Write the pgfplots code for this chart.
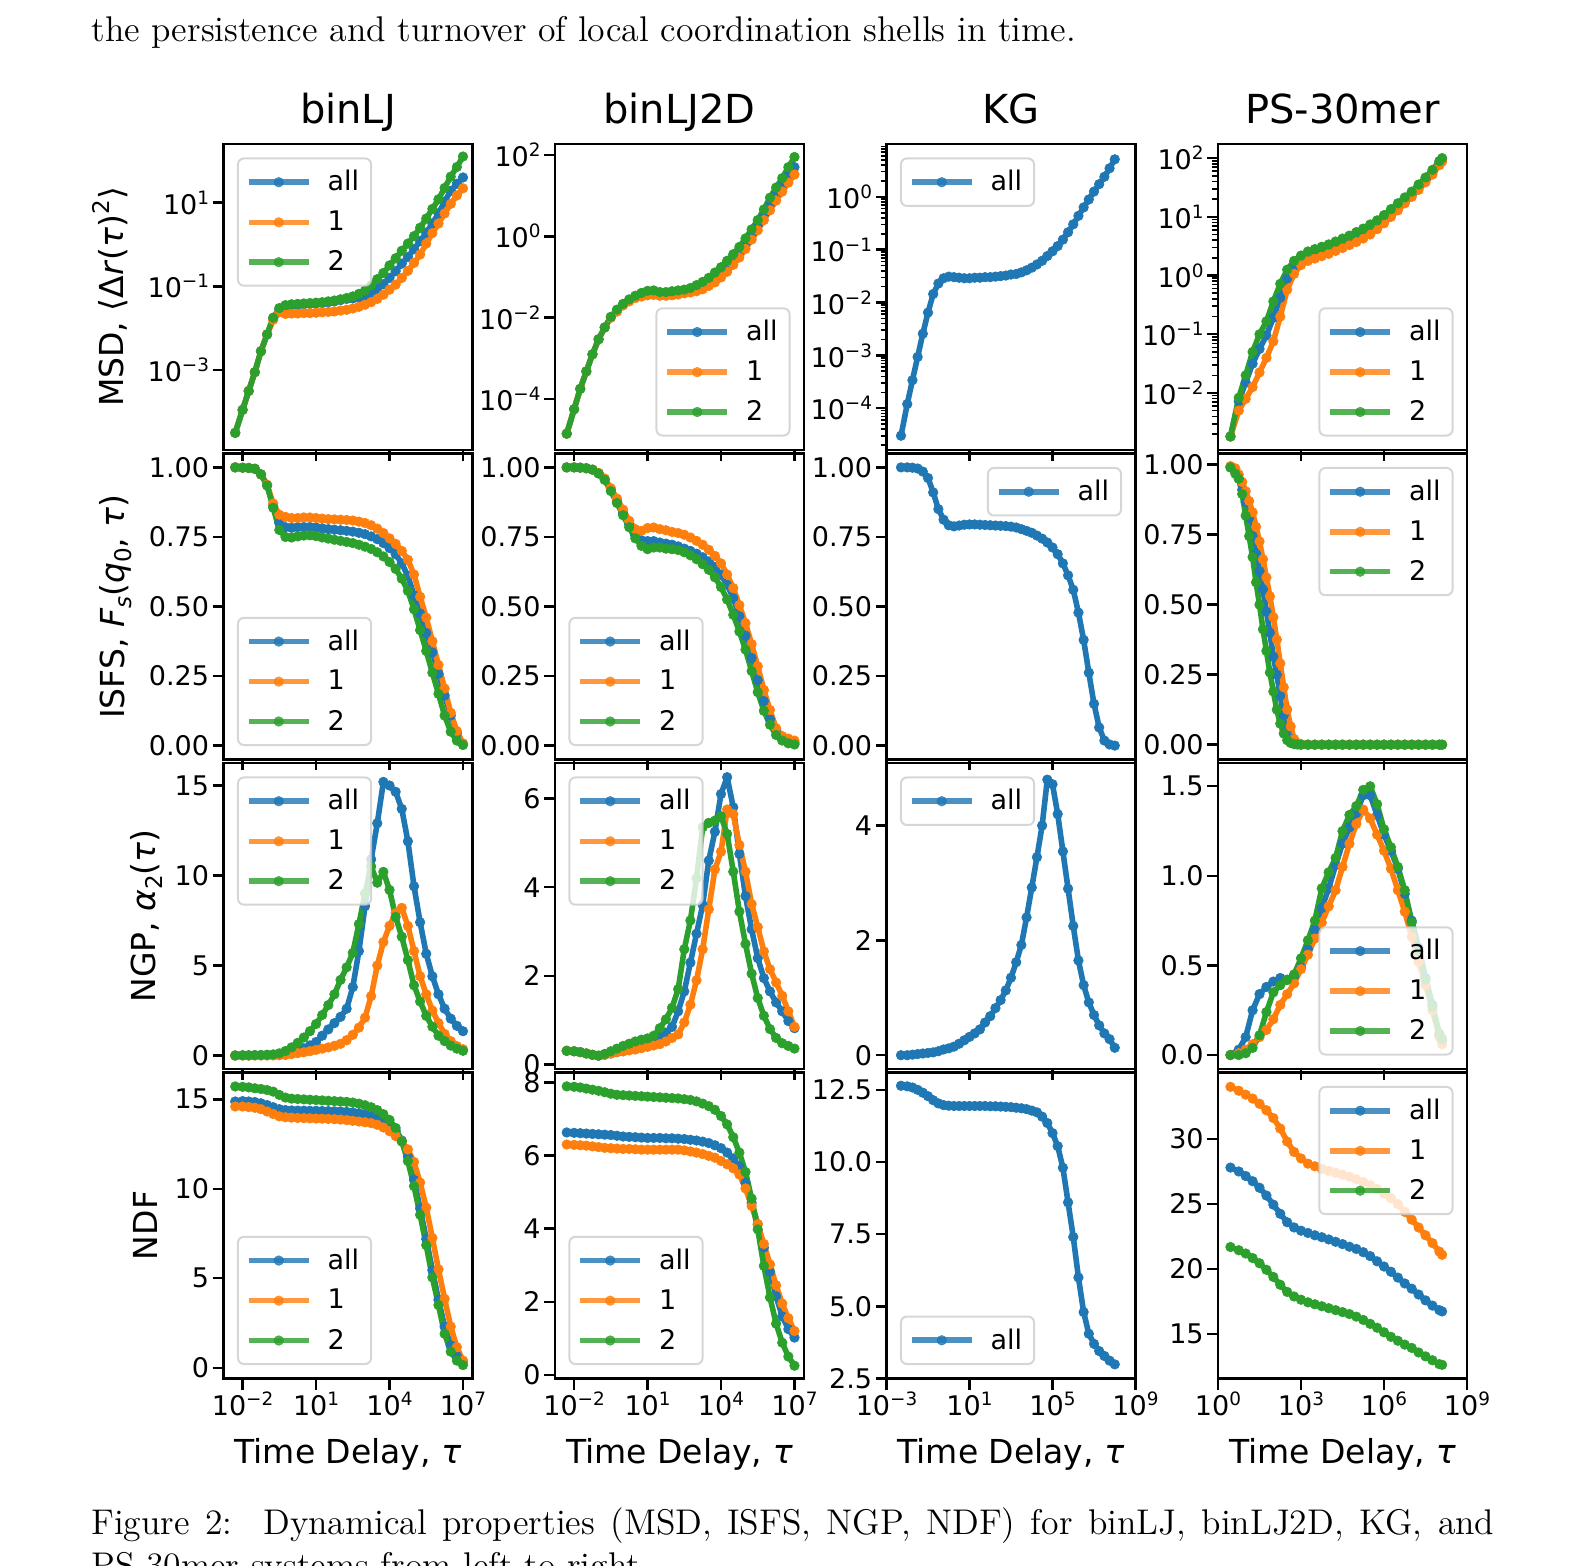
\documentclass[border=0pt]{standalone}
\usepackage{fontspec}
\usepackage{pgfplots}
\usepackage{pgfplotstable}
\pgfplotsset{compat=1.18}
\newfontfamily\dv{DejaVu Sans}
\newfontfamily\lmt{lmroman12-regular}[Extension=.otf]
\definecolor{tb}{HTML}{1F77B4}
\definecolor{to}{HTML}{FF7F0E}
\definecolor{tg}{HTML}{2CA02C}
\newcommand\tl{\dv\fontsize{13.5pt}{15pt}\selectfont}
\newcommand\lb{\dv\fontsize{16.5pt}{19pt}\selectfont}
\newcommand\pw[1]{10\raisebox{5pt}{\fontsize{9.2pt}{9.2pt}\selectfont #1}}
\newcommand\sps[1]{\raisebox{0.42em}{\fontsize{11.5pt}{11.5pt}\selectfont #1}}
\newcommand\sbs[1]{\raisebox{-0.22em}{\fontsize{11.5pt}{11.5pt}\selectfont #1}}

% binLJ: x, MSD(all,1,2), ISFS(all,1,2), NGP(all,1,2), NDF(all,1,2)
\pgfplotstableread{
x m0 m1 m2 f0 f1 f2 n0 n1 n2 d0 d1 d2
5e-3 3.16e-5 3.16e-5 3.16e-5 1.000 1.000 1.000 0.00 0.00 0.00 14.88 14.60 15.72
1e-2 1.12e-4 1.12e-4 1.12e-4 0.999 0.999 0.999 0.01 0.00 0.01 14.90 14.60 15.70
1.778e-2 3.16e-4 3.16e-4 3.16e-4 0.998 0.998 0.998 0.01 0.00 0.01 14.88 14.57 15.67
3.162e-2 8.91e-4 8.91e-4 8.91e-4 0.995 0.995 0.995 0.02 0.00 0.02 14.85 14.53 15.62
5.623e-2 2.82e-3 2.82e-3 2.82e-3 0.975 0.975 0.975 0.02 0.00 0.03 14.78 14.45 15.58
1e-1 7.08e-3 7.08e-3 7.08e-3 0.936 0.938 0.935 0.03 0.00 0.04 14.68 14.32 15.52
1.778e-1 1.74e-2 1.58e-2 1.78e-2 0.862 0.870 0.855 0.04 0.00 0.06 14.56 14.18 15.43
3.162e-1 2.88e-2 2.40e-2 3.02e-2 0.800 0.830 0.775 0.06 0.01 0.12 14.45 14.05 15.25
5.623e-1 3.39e-2 2.19e-2 3.55e-2 0.785 0.822 0.750 0.10 0.03 0.25 14.40 14.00 15.10
1 3.55e-2 2.24e-2 3.72e-2 0.783 0.818 0.748 0.18 0.08 0.45 14.38 13.98 15.04
1.778 3.63e-2 2.24e-2 3.80e-2 0.785 0.818 0.752 0.28 0.13 0.70 14.37 13.96 15.02
3.162 3.72e-2 2.29e-2 3.89e-2 0.786 0.820 0.755 0.40 0.18 1.00 14.37 13.95 15.00
5.623 3.80e-2 2.29e-2 3.98e-2 0.786 0.820 0.756 0.56 0.24 1.35 14.36 13.94 14.98
10 3.89e-2 2.34e-2 4.07e-2 0.784 0.818 0.753 0.75 0.31 1.75 14.36 13.93 14.96
17.78 3.98e-2 2.40e-2 4.17e-2 0.781 0.816 0.748 1.10 0.38 2.25 14.35 13.92 14.94
31.62 4.17e-2 2.45e-2 4.37e-2 0.778 0.814 0.744 1.45 0.45 2.80 14.34 13.91 14.92
56.23 4.37e-2 2.51e-2 4.57e-2 0.776 0.813 0.740 1.80 0.54 3.40 14.33 13.89 14.90
100 4.68e-2 2.63e-2 4.90e-2 0.774 0.812 0.736 2.15 0.65 4.20 14.32 13.87 14.88
177.8 5.01e-2 2.75e-2 5.25e-2 0.772 0.811 0.732 2.60 0.85 4.90 14.30 13.84 14.86
316.2 5.13e-2 2.95e-2 5.75e-2 0.769 0.809 0.728 3.80 1.15 5.70 14.27 13.80 14.82
562.3 5.37e-2 3.24e-2 6.61e-2 0.765 0.805 0.722 5.80 1.55 7.30 14.22 13.76 14.76
1000 5.89e-2 3.63e-2 7.94e-2 0.760 0.800 0.715 8.30 2.10 9.00 14.15 13.72 14.67
1778 6.92e-2 4.17e-2 1.05e-1 0.752 0.792 0.707 10.90 3.30 10.50 14.07 13.67 14.56
3162 8.71e-2 5.01e-2 1.48e-1 0.742 0.780 0.695 12.90 5.00 9.60 13.95 13.58 14.40
5623 1.12e-1 6.31e-2 2.09e-1 0.728 0.764 0.680 15.20 6.30 10.20 13.78 13.43 14.17
1e4 1.58e-1 8.32e-2 3.16e-1 0.710 0.745 0.660 15.00 7.20 9.20 13.56 13.22 13.85
1.778e4 2.29e-1 1.10e-1 4.68e-1 0.688 0.725 0.635 14.65 7.90 7.70 13.25 12.95 13.40
3.162e4 3.47e-1 1.58e-1 7.08e-1 0.655 0.700 0.600 13.70 8.20 6.60 12.70 12.65 12.65
5.623e4 5.01e-1 2.34e-1 1.05 0.610 0.668 0.556 11.90 7.20 5.30 11.80 12.20 11.55
1e5 7.76e-1 3.63e-1 1.585 0.540 0.615 0.490 9.40 5.80 3.90 10.50 11.50 10.15
1.778e5 1.20 5.75e-1 2.51 0.475 0.535 0.415 7.40 4.40 3.00 8.90 10.35 8.55
3.162e5 1.91 1.05 4.17 0.405 0.460 0.340 5.65 3.40 2.20 7.20 8.95 6.85
5.623e5 3.16 1.86 7.08 0.335 0.375 0.262 4.40 2.50 1.60 5.45 7.25 5.05
1e6 5.50 3.16 12.0 0.258 0.290 0.186 3.40 1.80 1.10 3.80 5.50 3.50
1.778e6 10.5 5.50 22.4 0.180 0.205 0.108 2.60 1.20 0.80 2.30 3.85 1.90
3.162e6 19.1 9.33 41.7 0.108 0.118 0.050 2.05 0.80 0.55 1.25 2.30 0.90
5.623e6 28.2 14.8 70.8 0.045 0.052 0.018 1.65 0.52 0.38 0.65 1.15 0.40
1e7 39.8 21.9 126 0.005 0.008 0.002 1.35 0.35 0.26 0.35 0.40 0.15
}\tA

% binLJ2D
\pgfplotstableread{
x m0 m1 m2 f0 f1 f2 n0 n1 n2 d0 d1 d2
5e-3 1.41e-5 1.41e-5 1.41e-5 1.000 1.000 1.000 0.31 0.31 0.31 6.63 6.30 7.89
1e-2 5.62e-5 5.62e-5 5.62e-5 1.000 1.000 1.000 0.30 0.30 0.30 6.62 6.29 7.88
1.778e-2 1.78e-4 1.78e-4 1.78e-4 0.999 0.999 0.999 0.28 0.28 0.28 6.61 6.28 7.86
3.162e-2 4.79e-4 4.79e-4 4.79e-4 0.997 0.997 0.997 0.25 0.25 0.25 6.60 6.27 7.83
5.623e-2 1.26e-3 1.26e-3 1.26e-3 0.992 0.992 0.992 0.22 0.22 0.22 6.59 6.25 7.80
1e-1 2.95e-3 2.95e-3 2.95e-3 0.979 0.980 0.978 0.20 0.20 0.20 6.58 6.23 7.77
1.778e-1 5.75e-3 5.75e-3 5.75e-3 0.957 0.960 0.955 0.22 0.22 0.24 6.57 6.21 7.73
3.162e-1 1.02e-2 1.00e-2 1.05e-2 0.919 0.925 0.915 0.25 0.25 0.30 6.56 6.20 7.69
5.623e-1 1.48e-2 1.41e-2 1.58e-2 0.878 0.888 0.872 0.28 0.28 0.36 6.54 6.19 7.66
1 2.09e-2 2.00e-2 2.19e-2 0.836 0.848 0.828 0.30 0.30 0.42 6.52 6.18 7.65
1.778 2.69e-2 2.51e-2 2.82e-2 0.795 0.808 0.785 0.33 0.32 0.47 6.51 6.18 7.64
3.162 3.24e-2 3.02e-2 3.47e-2 0.755 0.778 0.745 0.37 0.34 0.52 6.50 6.17 7.63
5.623 3.72e-2 3.31e-2 4.07e-2 0.738 0.772 0.718 0.42 0.37 0.56 6.49 6.16 7.62
10 4.07e-2 3.55e-2 4.57e-2 0.735 0.782 0.706 0.48 0.40 0.59 6.48 6.16 7.61
17.78 4.17e-2 3.63e-2 4.68e-2 0.735 0.784 0.712 0.55 0.43 0.65 6.48 6.16 7.60
31.62 3.89e-2 3.47e-2 4.27e-2 0.730 0.778 0.712 0.62 0.46 0.82 6.48 6.16 7.59
56.23 3.89e-2 3.47e-2 4.27e-2 0.726 0.774 0.708 0.72 0.52 1.02 6.47 6.16 7.58
100 3.98e-2 3.55e-2 4.47e-2 0.722 0.768 0.706 0.85 0.60 1.28 6.47 6.16 7.57
177.8 4.17e-2 3.72e-2 4.68e-2 0.716 0.764 0.703 1.20 0.68 1.70 6.46 6.16 7.56
316.2 4.47e-2 3.98e-2 4.90e-2 0.708 0.758 0.695 1.65 0.95 2.60 6.45 6.14 7.54
562.3 4.79e-2 4.17e-2 5.37e-2 0.700 0.748 0.684 2.30 1.35 3.25 6.43 6.11 7.52
1000 5.37e-2 4.47e-2 6.31e-2 0.690 0.736 0.670 2.95 1.90 4.20 6.41 6.08 7.48
1778 6.17e-2 5.01e-2 7.59e-2 0.677 0.722 0.652 3.60 2.60 5.35 6.38 6.04 7.42
3162 7.59e-2 6.03e-2 9.55e-2 0.662 0.704 0.632 4.60 3.50 5.45 6.34 5.99 7.35
5623 9.77e-2 7.41e-2 1.29e-1 0.642 0.682 0.605 5.25 4.40 5.50 6.28 5.94 7.25
1e4 1.32e-1 9.77e-2 1.74e-1 0.614 0.655 0.570 6.10 4.80 5.60 6.20 5.85 7.08
1.778e4 1.86e-1 1.35e-1 2.51e-1 0.578 0.615 0.525 6.48 5.75 5.20 6.08 5.76 6.85
3.162e4 2.69e-1 2.00e-1 3.63e-1 0.530 0.566 0.470 5.80 5.65 4.35 5.92 5.65 6.50
5.623e4 4.07e-1 3.02e-1 5.50e-1 0.465 0.505 0.410 4.75 4.95 3.45 5.70 5.48 6.08
1e5 6.61e-1 4.90e-1 8.91e-1 0.395 0.440 0.345 3.80 4.35 2.72 5.25 5.10 5.55
1.778e5 1.10 8.32e-1 1.48 0.315 0.365 0.268 3.05 3.62 2.05 4.70 4.62 4.82
3.162e5 1.86 1.41 2.51 0.235 0.285 0.192 2.40 3.10 1.50 4.12 4.12 3.98
5.623e5 3.31 2.51 4.57 0.160 0.200 0.125 1.95 2.55 1.10 3.48 3.58 2.98
1e6 6.17 4.37 8.91 0.095 0.128 0.075 1.65 2.15 0.80 2.82 3.02 2.12
1.778e6 11.0 7.59 15.8 0.055 0.062 0.038 1.40 1.85 0.60 2.15 2.45 1.40
3.162e6 18.6 12.6 26.9 0.030 0.034 0.018 1.20 1.55 0.48 1.60 1.95 0.88
5.623e6 30.9 20.9 50.1 0.018 0.025 0.008 0.98 1.20 0.42 1.25 1.55 0.50
1e7 50.1 33.1 89.1 0.010 0.018 0.004 0.82 0.85 0.36 1.02 1.20 0.25
}\tB

% KG: x, MSD, ISFS, NGP, NDF (all)
\pgfplotstableread{
x m f n d
5e-3 3.02e-5 1.000 0.00 12.64
1e-2 1.20e-4 1.000 0.00 12.62
1.778e-2 3.39e-4 0.999 0.01 12.58
3.162e-2 9.33e-4 0.996 0.02 12.50
5.623e-2 2.57e-3 0.985 0.03 12.40
1e-1 6.46e-3 0.962 0.04 12.28
1.778e-1 1.45e-2 0.910 0.05 12.14
3.162e-1 2.29e-2 0.850 0.07 12.03
5.623e-1 2.88e-2 0.812 0.10 11.97
1 3.09e-2 0.792 0.12 11.95
1.778 3.02e-2 0.788 0.15 11.94
3.162 2.95e-2 0.791 0.20 11.94
5.623 2.88e-2 0.794 0.26 11.94
10 2.88e-2 0.795 0.32 11.94
17.78 2.95e-2 0.795 0.38 11.94
31.62 2.95e-2 0.794 0.45 11.94
56.23 3.02e-2 0.793 0.57 11.94
100 3.02e-2 0.792 0.68 11.93
177.8 3.09e-2 0.791 0.82 11.93
316.2 3.16e-2 0.790 0.96 11.92
562.3 3.24e-2 0.789 1.13 11.91
1000 3.39e-2 0.787 1.35 11.90
1778 3.47e-2 0.784 1.62 11.88
3162 3.72e-2 0.778 1.92 11.86
5623 4.07e-2 0.772 2.40 11.83
1e4 4.57e-2 0.765 2.92 11.78
1.778e4 5.25e-2 0.755 3.45 11.72
3.162e4 6.17e-2 0.744 4.00 11.57
5.623e4 7.59e-2 0.730 4.80 11.35
1e5 9.33e-2 0.712 4.72 11.00
1.778e5 1.17e-1 0.688 4.20 10.55
3.162e5 1.55e-1 0.655 3.55 9.80
5.623e5 2.14e-1 0.612 2.90 8.60
1e6 3.02e-1 0.560 2.25 7.40
1.778e6 4.37e-1 0.478 1.65 6.00
3.162e6 6.31e-1 0.380 1.22 4.80
5.623e6 8.91e-1 0.262 0.92 4.05
1e7 1.26 0.150 0.70 3.70
1.778e7 1.74 0.065 0.52 3.45
3.162e7 2.40 0.018 0.38 3.28
5.623e7 3.47 0.004 0.28 3.12
1e8 5.13 0.000 0.13 2.99
}\tC

% PS-30mer: x, MSD(all,1,2), NGP(all,1,2), NDF(all,1,2)
\pgfplotstableread{
x m0 m1 m2 n0 n1 n2 d0 d1 d2
2.818 1.82e-3 1.82e-3 1.82e-3 0.00 0.00 0.00 27.8 34.0 21.7
5.623 7.24e-3 5.01e-3 8.32e-3 0.03 0.01 0.00 27.5 33.7 21.45
10 1.51e-2 7.94e-3 2.00e-2 0.10 0.03 0.01 27.15 33.4 21.2
17.78 3.16e-2 1.26e-2 5.01e-2 0.25 0.06 0.04 26.75 33.1 20.85
31.62 5.62e-2 2.24e-2 1.00e-1 0.34 0.10 0.11 26.25 32.7 20.45
56.23 9.55e-2 3.98e-2 1.66e-1 0.38 0.14 0.24 25.65 32.2 19.95
100 1.91e-1 7.59e-2 3.63e-1 0.41 0.20 0.35 24.95 31.6 19.4
177.8 4.17e-1 2.00e-1 7.24e-1 0.43 0.28 0.39 24.25 30.8 18.8
316.2 8.91e-1 5.75e-1 1.26 0.42 0.34 0.42 23.6 29.8 18.25
562.3 1.45 1.07 1.78 0.44 0.40 0.45 23.2 29.0 17.9
1000 1.86 1.51 2.19 0.49 0.48 0.54 22.95 28.5 17.65
1778 2.19 1.78 2.57 0.59 0.56 0.64 22.78 28.1 17.45
3162 2.40 1.95 2.82 0.70 0.65 0.75 22.6 27.9 17.3
5623 2.63 2.14 3.09 0.82 0.74 0.93 22.45 27.7 17.15
1e4 2.88 2.34 3.39 0.93 0.83 1.02 22.28 27.55 17.0
1.778e4 3.24 2.63 3.80 1.06 0.92 1.10 22.1 27.4 16.85
3.162e4 3.63 2.95 4.27 1.18 1.05 1.25 21.92 27.25 16.7
5.623e4 4.07 3.31 4.79 1.27 1.18 1.34 21.72 27.1 16.55
1e5 4.68 3.72 5.50 1.35 1.29 1.39 21.55 26.9 16.35
1.778e5 5.37 4.27 6.31 1.45 1.37 1.48 21.3 26.7 16.1
3.162e5 6.31 5.01 7.41 1.45 1.32 1.50 21.0 26.45 15.8
5.623e5 7.59 6.17 8.71 1.34 1.23 1.40 20.6 26.15 15.5
1e6 9.33 7.76 10.7 1.23 1.14 1.26 20.2 25.8 15.15
1.778e6 11.7 10.0 13.5 1.14 1.04 1.16 19.8 25.45 14.8
3.162e6 15.1 12.9 17.0 1.04 0.92 1.05 19.35 25.0 14.5
5.623e6 19.5 17.0 21.4 0.90 0.80 0.92 18.9 24.4 14.2
1e7 24.5 21.9 26.9 0.75 0.66 0.74 18.5 23.8 13.95
1.778e7 32.4 28.8 35.5 0.60 0.52 0.58 18.05 23.2 13.6
3.162e7 42.7 38.9 46.8 0.43 0.39 0.42 17.6 22.6 13.3
5.623e7 57.5 52.5 63.1 0.28 0.25 0.27 17.2 22.0 13.0
1e8 83.2 75.9 89.1 0.11 0.10 0.12 16.85 21.35 12.7
1.259e8 93.3 87.1 100 0.08 0.06 0.09 16.75 21.1 12.65
}\tD

% PS-30mer ISFS (all,1,2)
\pgfplotstableread{
x f0 f1 f2
2.818 0.991 0.995 0.990
4.217 0.980 0.987 0.968
5.623 0.950 0.965 0.950
7.499 0.910 0.938 0.895
10 0.866 0.905 0.818
13.34 0.810 0.870 0.745
17.78 0.745 0.830 0.670
23.71 0.682 0.778 0.580
31.62 0.620 0.726 0.500
42.17 0.555 0.662 0.412
56.23 0.475 0.597 0.335
74.99 0.400 0.530 0.258
100 0.315 0.455 0.190
133.4 0.250 0.375 0.125
177.8 0.175 0.290 0.075
237.1 0.105 0.205 0.040
316.2 0.055 0.125 0.016
421.7 0.022 0.065 0.006
562.3 0.005 0.020 0.002
749.9 0.001 0.006 0.001
1000 0.000 0.002 0.000
1778 0.000 0.000 0.000
3162 0.000 0.000 0.000
5623 0.000 0.000 0.000
1e4 0.000 0.000 0.000
1.778e4 0.000 0.000 0.000
3.162e4 0.000 0.000 0.000
5.623e4 0.000 0.000 0.000
1e5 0.000 0.000 0.000
1.778e5 0.000 0.000 0.000
3.162e5 0.000 0.000 0.000
5.623e5 0.000 0.000 0.000
1e6 0.000 0.000 0.000
1.778e6 0.000 0.000 0.000
3.162e6 0.000 0.000 0.000
5.623e6 0.000 0.000 0.000
1e7 0.000 0.000 0.000
1.778e7 0.000 0.000 0.000
3.162e7 0.000 0.000 0.000
5.623e7 0.000 0.000 0.000
1e8 0.000 0.000 0.000
1.259e8 0.000 0.000 0.000
}\tE

\pgfplotsset{
 panel/.style={
  scale only axis, width=124.5pt, height=153pt, anchor=north west,
  axis line style={line width=1.3pt},
  tick align=outside, tick pos=left,
  major tick length=5.5pt, minor tick length=3pt,
  major tick style={line width=1.2pt, black},
  minor tick style={line width=0.8pt, black},
  ticklabel style={font=\tl},
  yticklabel style={inner sep=1.5pt},
  xticklabel style={inner sep=1pt},
  label style={font=\lb},
  xlabel shift=6.5pt,
  title style={font=\dv\fontsize{20pt}{24pt}\selectfont, at={(0.5,1)}, anchor=base, yshift=4pt},
  legend style={draw=black!20, line width=1pt, rounded corners=3pt, fill=white, fill opacity=0.8, draw opacity=0.8, text opacity=1, font=\tl, inner xsep=4pt, inner ysep=4pt, row sep=4.5pt, /tikz/every odd column/.append style={column sep=6pt}},
  legend cell align=left,
  legend image code/.code={\draw[mark repeat=2,mark phase=2] plot coordinates {(0pt,0pt) (15pt,0pt) (30pt,0pt)};},
  every axis plot/.append style={line width=2.8pt, mark=*, mark size=2.4pt, mark options={line width=0.3pt}, line join=round},
 },
 UL/.style={legend style={at={(0.054,0.956)},anchor=north west}},
 UR/.style={legend style={at={(0.946,0.956)},anchor=north east}},
 LL/.style={legend style={at={(0.054,0.044)},anchor=south west}},
 LR/.style={legend style={at={(0.946,0.044)},anchor=south east}},
 cA/.style={xmin=1.66e-3, xmax=2.45e7, xtick={1e-2,1e1,1e4,1e7}, xminorticks=false},
 cC/.style={xmin=1e-3, xmax=1e9, xtick={1e-3,1e1,1e5,1e9}, xminorticks=false},
 cD/.style={xmin=1, xmax=1e9, xtick={1,1e3,1e6,1e9}, xminorticks=false},
 noxl/.style={xticklabels={}},
 botA/.style={xticklabels={\pw{−2},\pw{1},\pw{4},\pw{7}}, xlabel={Time Delay, \textit{τ}}},
 botC/.style={xticklabels={\pw{−3},\pw{1},\pw{5},\pw{9}}, xlabel={Time Delay, \textit{τ}}},
 botD/.style={xticklabels={\pw{0},\pw{3},\pw{6},\pw{9}}, xlabel={Time Delay, \textit{τ}}},
 isfs/.style={ymin=-0.05, ymax=1.05, ytick={0,0.25,0.5,0.75,1}, yticklabels={0.00,0.25,0.50,0.75,1.00}},
}

\begin{document}
\begin{tikzpicture}
\useasboundingbox (0pt,0pt) rectangle (792.5pt,-783pt);
\node[anchor=base west, inner sep=0pt, font=\lmt\fontsize{17.85pt}{21.4pt}\selectfont] at (45.5pt,-20.6pt) {the persistence and turnover of local coordination shells in time.};
\node[anchor=base west, inner sep=0pt, font=\lmt\fontsize{17.85pt}{21.4pt}\selectfont] at (45.5pt,-767.4pt) {\makebox[701.5pt][s]{Figure 2:\ \ Dynamical properties (MSD, ISFS, NGP, NDF) for binLJ, binLJ2D, KG, and}};
\node[anchor=base west, inner sep=0pt, font=\lmt\fontsize{17.85pt}{21.4pt}\selectfont] at (45.5pt,-788.6pt) {PS-30mer systems from left to right.};

% ---------------- Row 1: MSD ----------------
\begin{axis}[xmode=log, ymode=log, panel, cA, noxl, at={(111.75pt,-72pt)}, ymin=1.23e-5, ymax=251,
  ytick={1e-3,1e-1,1e1}, yticklabels={\pw{−3},\pw{−1},\pw{1}}, yminorticks=false,
  title={binLJ}, ylabel={MSD, ⟨Δ\textit{r}(\textit{τ})\sps{2}⟩}, ylabel shift=5pt, UL, legend entries={all,1,2}]
\addplot[tb] table[x=x,y=m0]{\tA};
\addplot[to] table[x=x,y=m1]{\tA};
\addplot[tg] table[x=x,y=m2]{\tA};
\end{axis}
\begin{axis}[xmode=log, ymode=log, panel, cA, noxl, at={(277.5pt,-72pt)}, ymin=5.6e-6, ymax=186,
  ytick={1e-4,1e-2,1,1e2}, yticklabels={\pw{−4},\pw{−2},\pw{0},\pw{2}}, yminorticks=false,
  title={binLJ2D}, LR, legend entries={all,1,2}]
\addplot[tb] table[x=x,y=m0]{\tB};
\addplot[to] table[x=x,y=m1]{\tB};
\addplot[tg] table[x=x,y=m2]{\tB};
\end{axis}
\begin{axis}[xmode=log, ymode=log, panel, cC, noxl, at={(443.25pt,-72pt)}, ymin=1.62e-5, ymax=10,
  ytick={1e-4,1e-3,1e-2,1e-1,1}, yticklabels={\pw{−4},\pw{−3},\pw{−2},\pw{−1},\pw{0}},
  minor ytick={2e-5,3e-5,4e-5,5e-5,6e-5,7e-5,8e-5,9e-5,2e-4,3e-4,4e-4,5e-4,6e-4,7e-4,8e-4,9e-4,2e-3,3e-3,4e-3,5e-3,6e-3,7e-3,8e-3,9e-3,2e-2,3e-2,4e-2,5e-2,6e-2,7e-2,8e-2,9e-2,0.2,0.3,0.4,0.5,0.6,0.7,0.8,0.9,2,3,4,5,6,7,8,9},
  title={KG}, UL, legend entries={all}]
\addplot[tb] table[x=x,y=m]{\tC};
\end{axis}
\begin{axis}[xmode=log, ymode=log, panel, cD, noxl, at={(609pt,-72pt)}, ymin=1.07e-3, ymax=174,
  ytick={1e-2,1e-1,1,1e1,1e2}, yticklabels={\pw{−2},\pw{−1},\pw{0},\pw{1},\pw{2}},
  minor ytick={2e-3,3e-3,4e-3,5e-3,6e-3,7e-3,8e-3,9e-3,2e-2,3e-2,4e-2,5e-2,6e-2,7e-2,8e-2,9e-2,0.2,0.3,0.4,0.5,0.6,0.7,0.8,0.9,2,3,4,5,6,7,8,9,20,30,40,50,60,70,80,90},
  title={PS-30mer}, LR, legend entries={all,1,2}]
\addplot[tb] table[x=x,y=m0]{\tD};
\addplot[to] table[x=x,y=m1]{\tD};
\addplot[tg] table[x=x,y=m2]{\tD};
\end{axis}

% ---------------- Row 2: ISFS ----------------
\begin{axis}[xmode=log, panel, cA, noxl, at={(111.75pt,-226.75pt)}, isfs,
  ylabel={ISFS, \textit{F}\sbs{\textit{s}}(\textit{q}\sbs{0}, \textit{τ})}, ylabel shift=3.5pt, LL, legend entries={all,1,2}]
\addplot[tb] table[x=x,y=f0]{\tA};
\addplot[to] table[x=x,y=f1]{\tA};
\addplot[tg] table[x=x,y=f2]{\tA};
\end{axis}
\begin{axis}[xmode=log, panel, cA, noxl, at={(277.5pt,-226.75pt)}, isfs, LL, legend entries={all,1,2}]
\addplot[tb] table[x=x,y=f0]{\tB};
\addplot[to] table[x=x,y=f1]{\tB};
\addplot[tg] table[x=x,y=f2]{\tB};
\end{axis}
\begin{axis}[xmode=log, panel, cC, noxl, at={(443.25pt,-226.75pt)}, isfs, UR, legend entries={all}]
\addplot[tb] table[x=x,y=f]{\tC};
\end{axis}
\begin{axis}[xmode=log, panel, cD, noxl, at={(609pt,-226.75pt)}, isfs, ymin=-0.053, ymax=1.04, UR, legend entries={all,1,2}]
\addplot[tb] table[x=x,y=f0]{\tE};
\addplot[to] table[x=x,y=f1]{\tE};
\addplot[tg] table[x=x,y=f2]{\tE};
\end{axis}

% ---------------- Row 3: NGP ----------------
\begin{axis}[xmode=log, panel, cA, noxl, at={(111.75pt,-381.5pt)}, ymin=-0.75, ymax=16.25,
  ytick={0,5,10,15}, yticklabels={0,5,10,15},
  ylabel={NGP, \textit{α}\sbs{2}(\textit{τ})}, ylabel shift=1pt, UL, legend entries={all,1,2}]
\addplot[tb] table[x=x,y=n0]{\tA};
\addplot[to] table[x=x,y=n1]{\tA};
\addplot[tg] table[x=x,y=n2]{\tA};
\end{axis}
\begin{axis}[xmode=log, panel, cA, noxl, at={(277.5pt,-381.5pt)}, ymin=-0.1, ymax=6.8,
  ytick={0,2,4,6}, yticklabels={0,2,4,6}, UL, legend entries={all,1,2}]
\addplot[tb] table[x=x,y=n0]{\tB};
\addplot[to] table[x=x,y=n1]{\tB};
\addplot[tg] table[x=x,y=n2]{\tB};
\end{axis}
\begin{axis}[xmode=log, panel, cC, noxl, at={(443.25pt,-381.5pt)}, ymin=-0.24, ymax=5.09,
  ytick={0,2,4}, yticklabels={0,2,4}, UL, legend entries={all}]
\addplot[tb] table[x=x,y=n]{\tC};
\end{axis}
\begin{axis}[xmode=log, panel, cD, noxl, at={(609pt,-381.5pt)}, ymin=-0.078, ymax=1.63,
  ytick={0,0.5,1,1.5}, yticklabels={0.0,0.5,1.0,1.5}, LR, legend entries={all,1,2}]
\addplot[tb] table[x=x,y=n0]{\tD};
\addplot[to] table[x=x,y=n1]{\tD};
\addplot[tg] table[x=x,y=n2]{\tD};
\end{axis}

% ---------------- Row 4: NDF ----------------
\begin{axis}[xmode=log, panel, cA, botA, at={(111.75pt,-536.25pt)}, ymin=-0.6, ymax=16.5,
  ytick={0,5,10,15}, yticklabels={0,5,10,15},
  ylabel={NDF}, ylabel shift=3.5pt, LL, legend entries={all,1,2}]
\addplot[tb] table[x=x,y=d0]{\tA};
\addplot[to] table[x=x,y=d1]{\tA};
\addplot[tg] table[x=x,y=d2]{\tA};
\end{axis}
\begin{axis}[xmode=log, panel, cA, botA, at={(277.5pt,-536.25pt)}, ymin=-0.1, ymax=8.27,
  ytick={0,2,4,6,8}, yticklabels={0,2,4,6,8}, LL, legend entries={all,1,2}]
\addplot[tb] table[x=x,y=d0]{\tB};
\addplot[to] table[x=x,y=d1]{\tB};
\addplot[tg] table[x=x,y=d2]{\tB};
\end{axis}
\begin{axis}[xmode=log, panel, cC, botC, at={(443.25pt,-536.25pt)}, ymin=2.5, ymax=13.1,
  ytick={2.5,5,7.5,10,12.5}, yticklabels={2.5,5.0,7.5,10.0,12.5}, LL, legend entries={all}]
\addplot[tb] table[x=x,y=d]{\tC};
\end{axis}
\begin{axis}[xmode=log, panel, cD, botD, at={(609pt,-536.25pt)}, ymin=11.6, ymax=35.1,
  ytick={15,20,25,30}, yticklabels={15,20,25,30}, UR, legend entries={all,1,2}]
\addplot[tb] table[x=x,y=d0]{\tD};
\addplot[to] table[x=x,y=d1]{\tD};
\addplot[tg] table[x=x,y=d2]{\tD};
\end{axis}
\end{tikzpicture}
\end{document}
